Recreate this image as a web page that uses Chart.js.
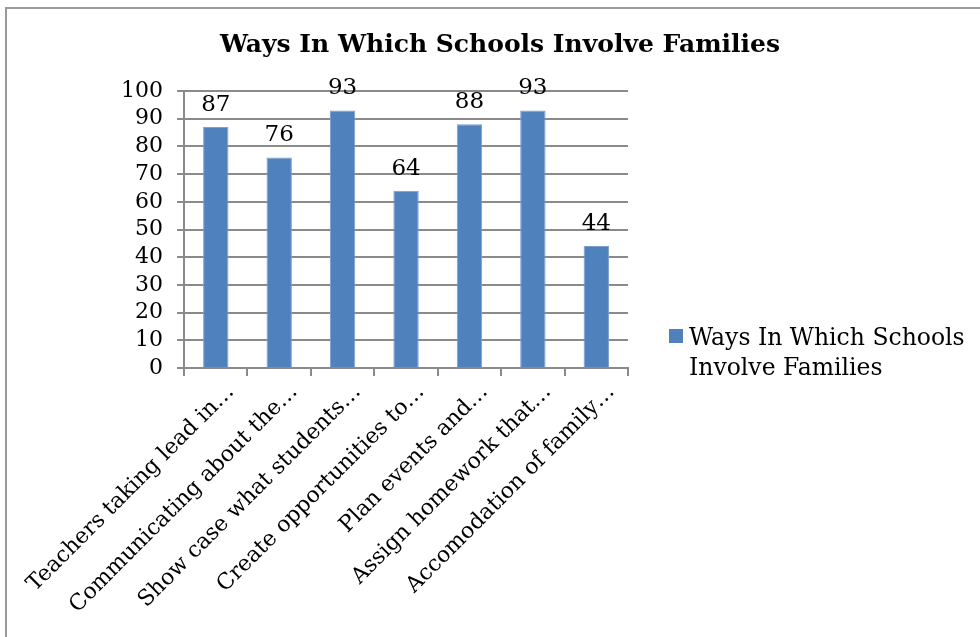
<!DOCTYPE html>
<html>
<head>
<meta charset="utf-8">
<script src="https://cdn.jsdelivr.net/npm/chart.js@4.4.1/dist/chart.umd.min.js"></script>
<style>
  html, body { margin: 0; padding: 0; background: #fff; }
  #wrap { position: absolute; left: 0; top: 0; width: 980px; height: 637px; }
</style>
</head>
<body>
<div id="wrap"><canvas id="mycanvas" width="980" height="637"></canvas></div>
<script>
var chartTitle = 'Ways In Which Schools Involve Families';
var categories = [
  'Teachers taking lead in…',
  'Communicating about the…',
  'Show case what students…',
  'Create opportunities to…',
  'Plan events and…',
  'Assign homework that…',
  'Accomodation of family…'
];
var percents = [87, 76, 93, 64, 88, 93, 44];
var yTicks = [0, 10, 20, 30, 40, 50, 60, 70, 80, 90, 100];
var legendLines = ['Ways In Which Schools', 'Involve Families'];

var serif = "'DejaVu Serif', Georgia, serif";
var barBlue = '#4f81bd';
var axisGrey = '#8a8a8a';

// grey frame round the whole chart
var framePlugin = {
  id: 'frame',
  beforeDraw: function(chart) {
    var c = chart.ctx;
    c.save();
    c.fillStyle = '#fff';
    c.fillRect(0, 0, chart.width, chart.height);
    c.strokeStyle = '#9a9a9a';
    c.lineWidth = 2;
    c.strokeRect(6, 8, chart.width + 20, chart.height + 20);
    c.restore();
  }
};

// value printed above each bar
var valuePlugin = {
  id: 'values',
  afterDatasetsDraw: function(chart) {
    var c = chart.ctx;
    var meta = chart.getDatasetMeta(0);
    c.save();
    c.font = '23px ' + serif;
    c.fillStyle = '#000';
    c.textAlign = 'center';
    c.textBaseline = 'alphabetic';
    meta.data.forEach(function(bar, i) {
      c.fillText(String(chart.data.datasets[0].data[i]), bar.x, bar.y - 16);
    });
    c.restore();
  }
};

// legend on the right, wrapped on two lines
var sideLegend = {
  id: 'sideLegend',
  afterDraw: function(chart) {
    var c = chart.ctx;
    var ds = chart.data.datasets[0];
    c.save();
    c.fillStyle = ds.backgroundColor;
    c.fillRect(669, 329, 14, 14);
    c.font = '23.5px ' + serif;
    c.fillStyle = '#000';
    c.textAlign = 'left';
    c.textBaseline = 'alphabetic';
    legendLines.forEach(function(line, i) {
      c.fillText(line, 689, 345 + i * 30);
    });
    c.restore();
  }
};

var ctx = document.getElementById('mycanvas');
var barGraph = new Chart(ctx, {
  type: 'bar',
  data: {
    labels: categories,
    datasets: [{
      label: chartTitle,
      data: percents,
      backgroundColor: barBlue,
      borderColor: '#7d9fcc',
      borderWidth: 1,
      categoryPercentage: 1.0,
      barPercentage: 0.4
    }]
  },
  options: {
    responsive: false,
    animation: false,
    events: [],
    layout: { padding: { left: 20, right: 0, top: 0, bottom: 0 } },
    plugins: {
      legend: { display: false },
      tooltip: { enabled: false },
      title: {
        display: true,
        text: chartTitle,
        color: '#000',
        font: { family: serif, size: 25, weight: 'bold' },
        padding: { top: 30, bottom: 31 }
      }
    },
    scales: {
      x: {
        offset: true,
        border: { color: axisGrey, width: 2 },
        grid: { offset: true, drawOnChartArea: false, drawTicks: true, tickLength: 8, color: axisGrey, lineWidth: 2 },
        ticks: {
          color: '#000',
          font: { family: serif, size: 22 },
          minRotation: 45,
          maxRotation: 45,
          autoSkip: false,
          padding: 3,
          labelOffset: 15
        },
        afterFit: function(scale) { scale.height = 269; }
      },
      y: {
        min: 0,
        max: 100,
        border: { color: axisGrey, width: 2 },
        grid: { color: axisGrey, lineWidth: 2, drawTicks: true, tickLength: 7 },
        afterBuildTicks: function(scale) {
          scale.ticks = yTicks.map(function(v) { return { value: v }; });
        },
        ticks: {
          color: '#000',
          font: { family: serif, size: 22 },
          autoSkip: false,
          padding: 14
        },
        afterFit: function(scale) { scale.width = 163; }
      },
      // empty axis that keeps the space for the legend on the right
      legendSpace: {
        type: 'linear',
        position: 'right',
        grid: { display: false },
        border: { display: false },
        ticks: { display: false },
        afterFit: function(scale) { scale.width = 352; }
      }
    }
  },
  plugins: [framePlugin, valuePlugin, sideLegend]
});
</script>
</body>
</html>
